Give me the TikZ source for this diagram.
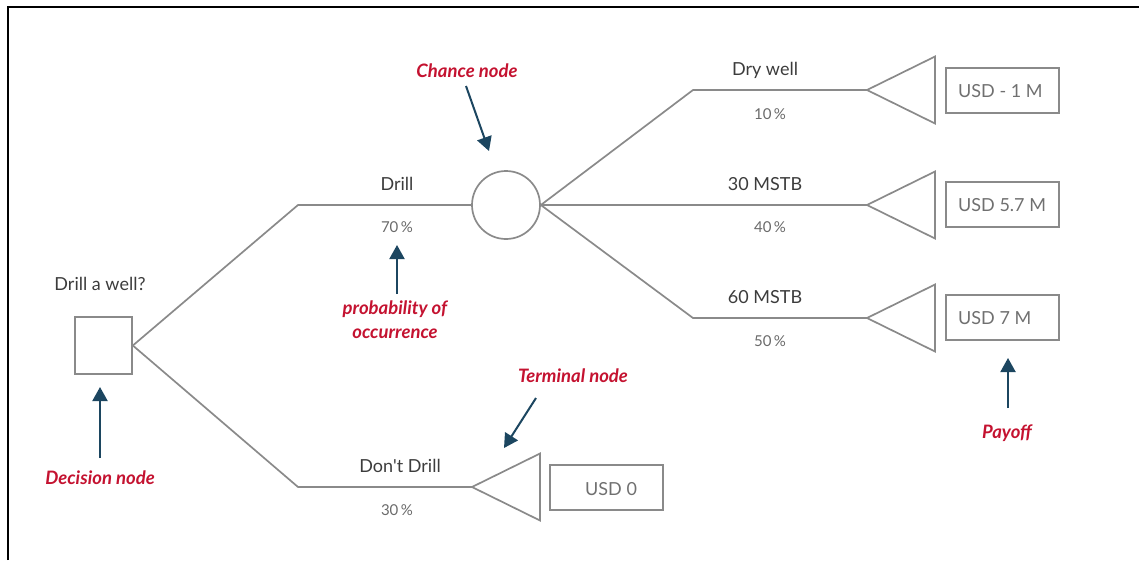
\documentclass[tikz,border=0pt]{standalone}
\usepackage{fontspec}
\setmainfont{Lato}
\usetikzlibrary{arrows.meta}
\definecolor{edgegrey}{HTML}{8A8A8A}
\definecolor{labelgrey}{HTML}{3C3C3C}
\definecolor{pctgrey}{HTML}{6A6A6A}
\definecolor{boxgrey}{HTML}{707070}
\definecolor{notered}{HTML}{C41230}
\definecolor{notenavy}{HTML}{1C4660}
\tikzset{
  branch/.style={draw=edgegrey, line width=1.7pt},
  decisionbox/.style={draw=edgegrey, line width=1.7pt, minimum size=57pt, inner sep=0pt},
  chancecircle/.style={draw=edgegrey, line width=1.7pt, circle, minimum size=68pt, inner sep=0pt},
  payoffbox/.style={draw=edgegrey, line width=1.7pt, minimum width=113pt, minimum height=45pt, inner sep=0pt},
  payofftext/.style={text=boxgrey, font=\fontsize{18}{21}\selectfont, anchor=west, inner sep=0pt},
  branchlabel/.style={text=labelgrey, font=\fontsize{18}{21}\selectfont},
  pctlabel/.style={text=pctgrey, font=\fontsize{15}{18}\selectfont},
  note/.style={text=notered, font=\fontsize{18.5}{24}\selectfont\bfseries\itshape, align=center},
  pointer/.style={draw=notenavy, line width=2pt, -{Triangle[length=14pt,width=15pt]}},
}
\newcommand{\terminal}[1]{%
  \draw[branch, line join=miter] (#1) -- ++(68,-33.5) -- ++(0,67) -- cycle;}
\begin{document}
\begin{tikzpicture}[x=1pt,y=-1pt]
\useasboundingbox (0,0) rectangle (1139,560);
% frame
\draw[black, line width=2.6pt] (8,560) -- (8,7) -- (1139,7);

% decision and chance nodes
\node[decisionbox] (dec) at (103.5,345.5) {};
\node[branchlabel] (decq) at (100,284) {Drill a well?};
\node[chancecircle] (ch) at (506,205) {};

% corner points of the branches
\coordinate (kDrill) at (298,205);
\coordinate (kNo) at (298,487);
\coordinate (kDry) at (693,90);
\coordinate (kWet) at (693,318);

% terminal tips
\coordinate (tDry) at (867,90);
\coordinate (t30) at (867,205);
\coordinate (t60) at (867,318);
\coordinate (tNo) at (472,487);

% branches
\draw[branch] (dec.east) -- (kDrill) -- (ch.west);
\draw[branch] (dec.east) -- (kNo) -- (tNo);
\draw[branch] (ch.east) -- (kDry) -- (tDry);
\draw[branch] (ch.east) -- (t30);
\draw[branch] (ch.east) -- (kWet) -- (t60);

% terminal nodes
\terminal{tDry}
\terminal{t30}
\terminal{t60}
\terminal{tNo}

% payoffs
\node[payoffbox] (pDry) at (1002.5,90.5) {};
\node[payoffbox] (p30) at (1002.5,204.5) {};
\node[payoffbox] (p60) at (1002.5,317.5) {};
\node[payoffbox] (pNo) at (606.5,487.5) {};
\node[payofftext] (vDry) at (958,91) {USD - 1 M};
\node[payofftext] (v30) at (958,205) {USD 5.7 M};
\node[payofftext] (v60) at (958,318) {USD 7 M};
\node[payofftext] (vNo) at (585,489) {USD 0};

% branch labels
\node[branchlabel] (lDrill) at (397,184) {Drill};
\node[pctlabel] (pcDrill) at (397,227) {70\,\%};
\node[branchlabel] (lNo) at (400,466) {Don\textquotesingle t Drill};
\node[pctlabel] (pcNo) at (397,510) {30\,\%};
\node[branchlabel] (lDry) at (765,70) {Dry well};
\node[pctlabel] (pcDry) at (770,114) {10\,\%};
\node[branchlabel] (l30) at (765,184) {30 MSTB};
\node[pctlabel] (pc30) at (770,227) {40\,\%};
\node[branchlabel] (l60) at (765,297) {60 MSTB};
\node[pctlabel] (pc60) at (770,341) {50\,\%};

% annotations
\node[note] (nChance) at (467,71) {Chance node};
\coordinate (aChance) at (489,151);
\draw[pointer] (466,86) -- (aChance);

\node[note] (nProb) at (395,320) {probability of\\occurrence};
\coordinate (aProb) at (397,245);
\draw[pointer] (397,294) -- (aProb);

\node[note] (nDec) at (100,478) {Decision node};
\coordinate (aDec) at (100,387);
\draw[pointer] (100,458) -- (aDec);

\node[note] (nTerm) at (573,376) {Terminal node};
\coordinate (aTerm) at (504,448);
\draw[pointer] (536,398) -- (aTerm);

\node[note] (nPay) at (1007,433) {Payoff};
\coordinate (aPay) at (1008,358);
\draw[pointer] (1008,408) -- (aPay);
\end{tikzpicture}
\end{document}
